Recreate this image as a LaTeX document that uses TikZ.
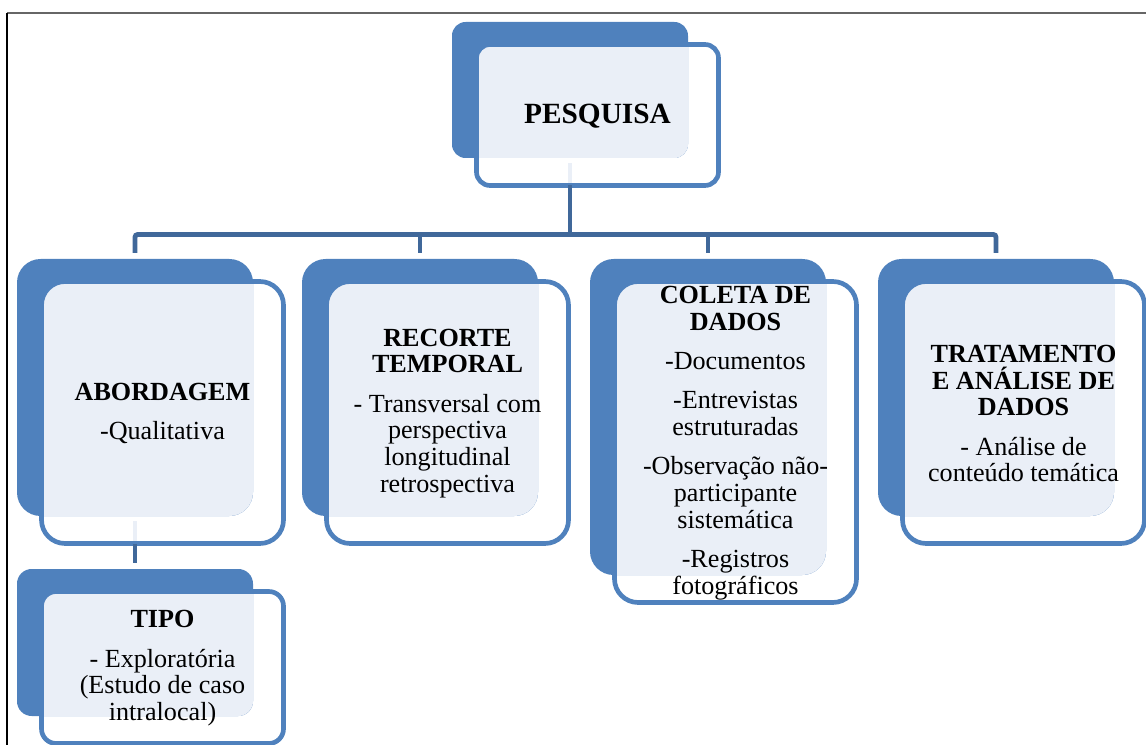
\documentclass[tikz,border=0pt]{standalone}
\usepackage{fontspec}
\setmainfont{Liberation Serif}
\usepackage{tikz}
\usetikzlibrary{positioning}
\definecolor{BoxBlue}{RGB}{79,129,189}
\definecolor{BoxLight}{RGB}{234,239,247}
\definecolor{LinkBlue}{RGB}{64,104,154}
\tikzset{
  boxtext/.style={align=center,inner sep=0pt,text=black,
    font=\fontsize{19.6}{20.1}\selectfont},
  conn/.style={LinkBlue,line width=3.6pt}
}
% name, x, y, w, h (dark box, px), text
\newcommand{\offsetbox}[6]{%
  \pgfmathsetmacro{\boxrad}{0.075*min(#4,#5)}%
  \fill[BoxBlue,rounded corners=\boxrad pt] (#2,#3) rectangle ++(#4,#5);
  \begin{scope}
    \clip[rounded corners=\boxrad pt] (#2,#3) rectangle ++(#4,#5);
    \fill[BoxLight,rounded corners=\boxrad pt]
      (#2+24.5,#3+22.5) rectangle ++(#4+6,#5+5);
  \end{scope}
  \draw[BoxBlue,line width=3.5pt,rounded corners=\boxrad pt]
    (#2+24.5,#3+22.5) rectangle ++(#4+6,#5+5);
  \node[boxtext] (#1) at ({#2+24.5+(#4+6)/2},{#3+23.5+(#5+5)/2}) {#6};
  \coordinate (#1-top) at ({#2+#4/2},{#3-6});
  \coordinate (#1-in) at ({#2+#4/2},{#3+#5+5});
  \coordinate (#1-edge) at ({#2+#4/2},{#3+#5+25});
  \coordinate (#1-bot) at ({#2+#4/2},{#3+#5+27.5});
}

\begin{document}
\begin{tikzpicture}[x=0.75pt,y=-0.75pt]
  \useasboundingbox (0,0) rectangle (1146,745);
  \draw[gray!80!black,line width=1.5pt] (7,13) -- (1146,13);
  \draw[black,line width=0.9pt] (7,13) -- (7,745);

  \offsetbox{pesq}{452}{22}{236}{136}{\fontsize{22}{24}\selectfont\textbf{PESQUISA}}
  \offsetbox{abord}{17}{259}{236}{257}{\textbf{ABORDAGEM}\\[9.3pt]-Qualitativa}
  \offsetbox{recorte}{302}{259}{236}{257}{\textbf{RECORTE}\\\textbf{TEMPORAL}\\[9.3pt]%
    - Transversal com\\perspectiva\\longitudinal\\retrospectiva}
  \offsetbox{coleta}{590}{259}{236}{316}{\textbf{COLETA DE}\\\textbf{DADOS}\\[9.3pt]%
    -Documentos\\[9.3pt]-Entrevistas\\estruturadas\\[9.3pt]%
    -Observação não-\\participante\\sistemática\\[9.3pt]-Registros\\fotográficos}
  \offsetbox{trat}{878}{259}{236}{257}{\textbf{TRATAMENTO}\\\textbf{E ANÁLISE DE}\\%
    \textbf{DADOS}\\[9.3pt]- Análise de\\conteúdo temática}
  \offsetbox{tipo}{17}{569}{236}{147}{\textbf{TIPO}\\[9.3pt]- Exploratória\\%
    (Estudo de caso\\intralocal)}

  \coordinate (bus) at (570,234.5);
  \draw[BoxLight,line width=3.6pt] (pesq-in) -- (pesq-edge);
  \draw[BoxLight,line width=3.6pt] (abord-in) -- (abord-edge);
  \draw[conn] (pesq-bot) -- (bus);
  \draw[conn,rounded corners=2pt] (abord-top) |- (bus) -| (trat-top);
  \draw[conn] (recorte-top) -- (recorte-top |- bus);
  \draw[conn] (coleta-top) -- (coleta-top |- bus);
  \draw[conn] (abord-bot) -- (tipo-top);
\end{tikzpicture}
\end{document}
